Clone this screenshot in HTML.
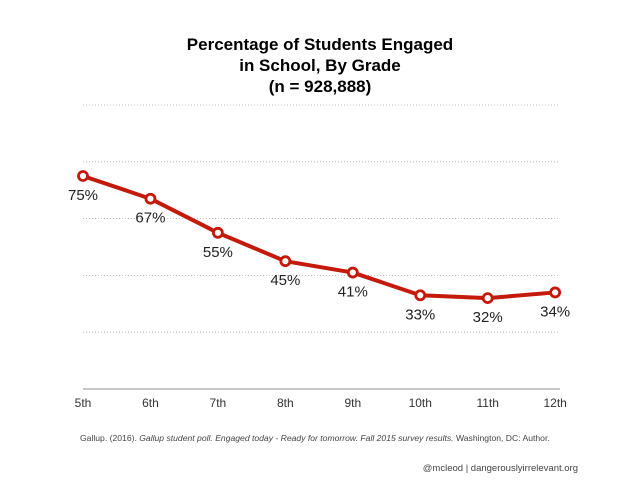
<!DOCTYPE html>
<html><head><meta charset="utf-8"><style>
body{margin:0;background:#fff;}
svg{display:block;font-family:"Liberation Sans",Arial,sans-serif;}
</style></head><body>
<svg width="640" height="480" id="chart">
<g font-weight="bold" font-size="17" text-anchor="middle" fill="#000">
<text x="320" y="50">Percentage of Students Engaged</text>
<text x="320" y="71">in School, By Grade</text>
<text x="320" y="92">(n = 928,888)</text>
</g>
<g id="grid"></g>
<line x1="83" x2="560" y1="389" y2="389" stroke="#c8c8c8" stroke-width="2"/>
<g id="xlabels" font-size="12" fill="#333" text-anchor="middle"></g>
<g id="series"></g>
<text x="80" y="441" font-size="8.6" fill="#444">Gallup. (2016). <tspan font-style="italic">Gallup student poll. Engaged today - Ready for tomorrow. Fall 2015 survey results.</tspan> Washington, DC: Author.</text>
<text x="578" y="471" font-size="9.5" fill="#444" text-anchor="end">@mcleod | dangerouslyirrelevant.org</text>
</svg>
<script>
const categories=["5th","6th","7th","8th","9th","10th","11th","12th"];
const values=[75,67,55,45,41,33,32,34];
const gridTicks=[20,40,60,80,100];
const ns="http://www.w3.org/2000/svg";
const x=i=>83+i*67.45;
const y=v=>389-v*2.84;
function mk(t,a,p){const e=document.createElementNS(ns,t);for(const k in a)e.setAttribute(k,a[k]);p.appendChild(e);return e;}
const grid=document.getElementById('grid');
gridTicks.forEach(t=>{
 const l=mk('line',{x1:83,x2:560,y1:y(t),y2:y(t),stroke:'#aaa','stroke-width':0.8,'stroke-dasharray':'1 2'},grid);
 
 
});
const xl=document.getElementById('xlabels');
categories.forEach((c,i)=>{
 const t=mk('text',{x:x(i),y:407},xl);t.textContent=c;
 
 
});
const s=document.getElementById('series');
const pl=mk('polyline',{points:values.map((v,i)=>x(i)+','+y(v)).join(' '),fill:'none',stroke:'#c41a0b','stroke-width':4,'stroke-linejoin':'round'},s);


values.forEach((v,i)=>{
 const c=mk('circle',{cx:x(i),cy:y(v),r:4.5,fill:'#fff',stroke:'#c41a0b','stroke-width':2.8},s);
 
 
 const t=mk('text',{x:x(i),y:y(v)+24,'font-size':15,fill:'#222','text-anchor':'middle'},s);
 t.textContent=v+'%';
 
 
});
</script>
</body></html>
